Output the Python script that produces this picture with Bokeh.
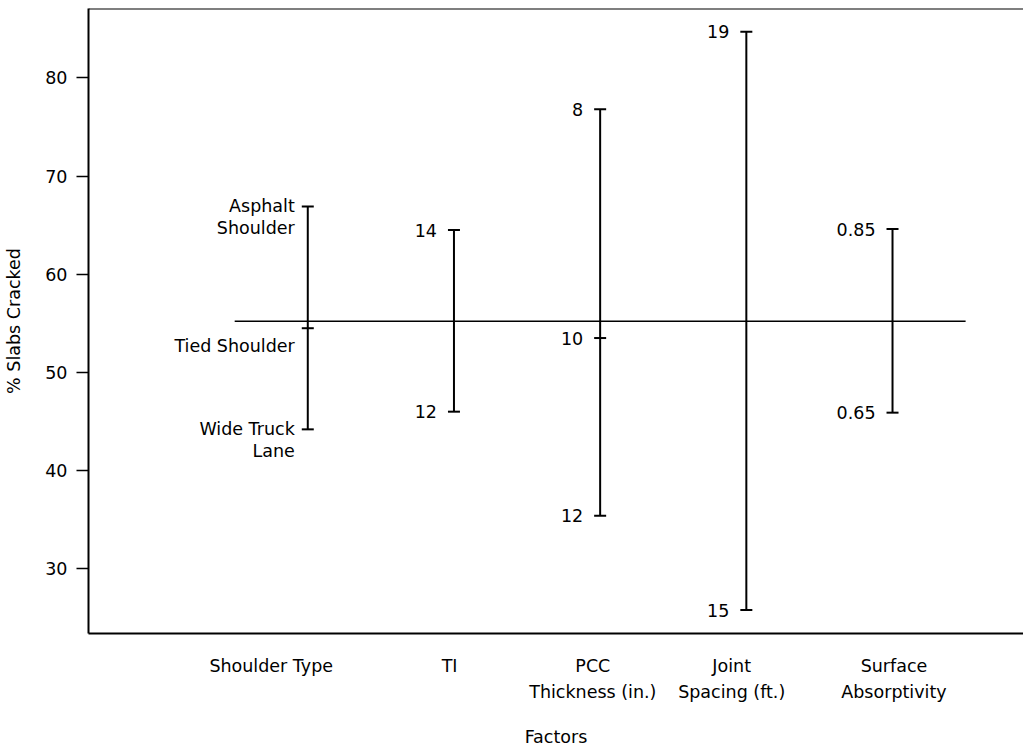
from bokeh.plotting import figure
from bokeh.models import Range1d, FixedTicker, Span, ColumnDataSource
from bokeh.core.properties import value
from bokeh.embed import file_html
from bokeh.resources import INLINE

# ---------------- data ----------------
factors = ["Shoulder Type", "TI", "PCC\nThickness (in.)", "Joint\nSpacing (ft.)", "Surface\nAbsorptivity"]
factor_x = [1, 2, 3, 4, 5]

shoulder_labels = ["Asphalt\nShoulder", "Tied Shoulder", "Wide Truck\nLane"]
shoulder_values = [66.9, 54.5, 44.2]
ti_labels = ["14", "12"]
ti_values = [64.5, 46.0]
pcc_labels = ["8", "10", "12"]
pcc_values = [76.8, 53.5, 35.4]
joint_labels = ["19", "15"]
joint_values = [84.7, 25.8]
surface_labels = ["0.85", "0.65"]
surface_values = [64.6, 45.9]
overall_mean = 55.2

y_ticks = [30, 40, 50, 60, 70, 80]

# ---------------- layout constants ----------------
label_pos = [0.75, 1.97, 2.95, 3.9, 5.01]   # x-positions of factor names
FONT = "DejaVu Sans"
FS = "17.5px"
LINE_GAP = 22  # px between label lines

groups = [
    (shoulder_labels, shoulder_values),
    (ti_labels, ti_values),
    (pcc_labels, pcc_values),
    (joint_labels, joint_values),
    (surface_labels, surface_values),
]

p = figure(width=1023, height=750,
           x_range=Range1d(-0.5, 5.896), y_range=Range1d(23.41, 87.06),
           output_backend="svg", toolbar_location=None,
           min_border_left=88, min_border_right=0, min_border_top=8, min_border_bottom=117)
p.grid.visible = False
p.outline_line_color = None
p.background_fill_color = "white"
p.border_fill_color = "white"

# top border
p.add_layout(Span(location=p.y_range.end, dimension="width", line_color="black", line_width=2))

# overall mean line
p.segment(x0=[factor_x[0] - 0.5], y0=[overall_mean], x1=[factor_x[-1] + 0.5], y1=[overall_mean],
          line_color="black", line_width=1.5)

# range bars
xs, lo, hi = [], [], []
cx, cy = [], []
for x, (labs, vals) in zip(factor_x, groups):
    xs.append(x); lo.append(min(vals)); hi.append(max(vals))
    for v in vals:
        cx.append(x); cy.append(v)
p.segment(x0=xs, y0=lo, x1=xs, y1=hi, line_color="black", line_width=2)
p.scatter(x=cx, y=cy, marker="dash", size=12, line_color="black", line_width=2)

# level labels
for gi, (x, (labs, vals)) in enumerate(zip(factor_x, groups)):
    xoff = -13 if gi == 0 else -17
    tx, ty, tt, toff = [], [], [], []
    for lab, v in zip(labs, vals):
        extra = 18 if lab == "Tied Shoulder" else 0
        for li, line in enumerate(lab.split("\n")):
            tx.append(x); ty.append(v); tt.append(line); toff.append(extra + li * LINE_GAP)
    src = ColumnDataSource(dict(x=tx, y=ty, t=tt, dy=toff))
    p.text(x="x", y="y", text="t", y_offset="dy", x_offset=xoff, source=src,
           text_align="right", text_baseline="middle",
           text_font=value(FONT), text_font_size=FS, text_color="black")

# axes
p.yaxis.ticker = FixedTicker(ticks=y_ticks)
p.yaxis.minor_tick_line_color = None
p.yaxis.major_tick_out = 12
p.yaxis.major_tick_in = 0
p.yaxis.major_tick_line_width = 1.5
p.yaxis.major_label_standoff = 9
p.yaxis.axis_label = "% Slabs Cracked"
p.yaxis.axis_label_standoff = 18

p.xaxis.ticker = FixedTicker(ticks=label_pos)
p.xaxis.major_label_overrides = {pos: name for pos, name in zip(label_pos, factors)}
p.xaxis.minor_tick_line_color = None
p.xaxis.major_tick_line_color = None
p.xaxis.major_tick_out = 0
p.xaxis.major_tick_in = 0
p.xaxis.major_label_standoff = 22
p.xaxis.axis_label = "Factors"
p.xaxis.axis_label_standoff = 22

for ax in (p.xaxis[0], p.yaxis[0]):
    ax.axis_line_width = 2
    ax.axis_line_color = "black"
    ax.major_label_text_font = FONT
    ax.major_label_text_font_size = FS
    ax.major_label_text_color = "black"
    ax.major_label_text_line_height = 1.3
    ax.axis_label_text_font = FONT
    ax.axis_label_text_font_size = FS
    ax.axis_label_text_font_style = "normal"
    ax.axis_label_text_color = "black"

open("out.html", "w").write(file_html(p, INLINE))
